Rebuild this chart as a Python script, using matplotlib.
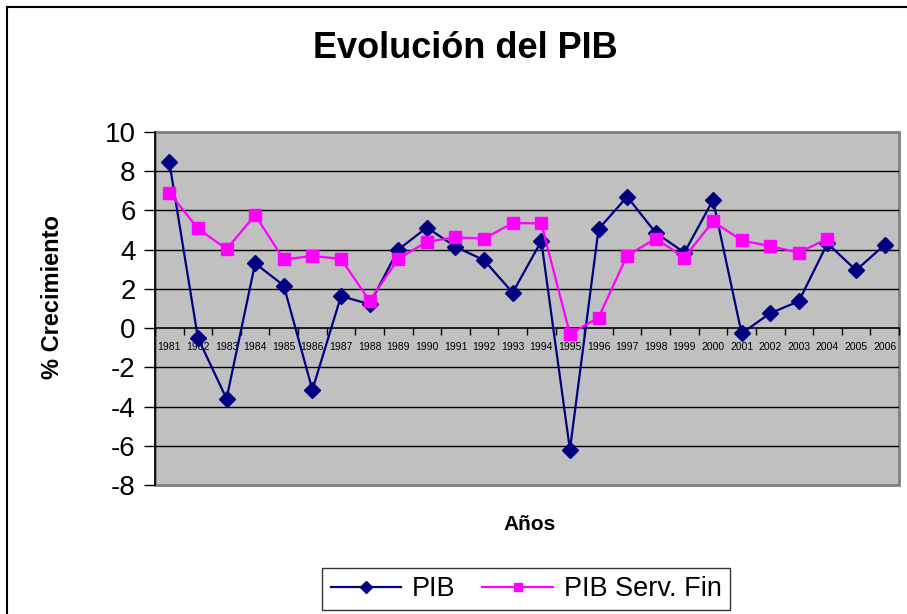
import matplotlib
matplotlib.use("Agg")
import matplotlib.pyplot as plt
from matplotlib.patches import Rectangle
import numpy as np

years = [str(y) for y in range(1981, 2007)]
pib = [8.47, -0.5, -3.6, 3.3, 2.17, -3.15, 1.63, 1.22, 4.0, 5.13, 4.15, 3.46, 1.81,
       4.44, -6.2, 5.05, 6.7, 4.86, 3.85, 6.53, -0.27, 0.76, 1.37, 4.32, 2.95, 4.25]
pib_serv_fin = [6.9, 5.08, 4.03, 5.76, 3.5, 3.68, 3.53, 1.39, 3.53, 4.4, 4.63, 4.56, 5.36,
                5.34, -0.3, 0.54, 3.7, 4.56, 3.6, 5.44, 4.47, 4.18, 3.85, 4.56, None, None]
yticks = [10, 8, 6, 4, 2, 0, -2, -4, -6, -8]

plt.rcParams['font.family'] = ['Liberation Sans', 'DejaVu Sans']

fig = plt.figure(figsize=(9.07, 6.14), dpi=100)
# outer chart frame (top and left edges visible)
fig.add_artist(plt.Line2D([7/907, 1.0], [1-7/614, 1-7/614], transform=fig.transFigure, color='black', lw=1.5))
fig.add_artist(plt.Line2D([7/907, 7/907], [0, 1-7/614], transform=fig.transFigure, color='black', lw=1.5))

ax = fig.add_axes([155/907, 1-485/614, (899-155)/907, (485-132)/614])
ax.set_facecolor('#C0C0C0')
x = np.arange(len(years))
ax.set_xlim(-0.5, len(years)-0.5)
ax.set_ylim(-8, 10)

for v in yticks:
    if v not in (0, 10, -8):
        ax.axhline(v, color='black', lw=1, zorder=1)

ax.plot(x, pib, color='#000080', lw=1.6, marker='D', markersize=8.5, zorder=3, label='PIB')
sf = np.array([np.nan if v is None else v for v in pib_serv_fin], dtype=float)
ax.plot(x, sf, color='#FF00FF', lw=1.6, marker='s', markersize=8.5, zorder=3, label='PIB Serv. Fin')

for s in ['top', 'right']:
    ax.spines[s].set_visible(False)
ax.spines['left'].set_color('black')
ax.spines['left'].set_linewidth(1.2)
ax.spines['bottom'].set_position(('data', 0))
ax.spines['bottom'].set_color('black')
ax.spines['bottom'].set_linewidth(1.2)
ax.add_patch(Rectangle((0, 0), 1, 1, transform=ax.transAxes, fill=False,
                       edgecolor='#808080', lw=2, zorder=0.5, clip_on=False))

ax.set_yticks(yticks)
ax.set_yticklabels([str(v) for v in yticks], fontsize=20)
ax.tick_params(axis='y', direction='out', length=8, width=1, pad=6)

ax.set_xticks(x)
ax.set_xticklabels(years, fontsize=7.5)
ax.tick_params(axis='x', which='major', length=0, pad=10)
ax.set_xticks(np.arange(-0.5, len(years), 1), minor=True)
ax.tick_params(axis='x', which='minor', direction='out', length=5, width=1)

fig.text(465/907, 1-49/614, 'Evolución del PIB', fontsize=26, fontweight='bold', ha='center', va='center')
fig.text(53/907, 1-297/614, '% Crecimiento', fontsize=17, fontweight='bold', ha='center', va='center', rotation=90)
fig.text(530/907, 1-524/614, 'Años', fontsize=15, fontweight='bold', ha='center', va='center')

leg = fig.legend(loc='center', bbox_to_anchor=(526/907, 1-589/614), ncol=2, fontsize=19.5,
                 frameon=True, fancybox=False, edgecolor='black', handlelength=2.6,
                 columnspacing=1.0, handletextpad=0.4, borderpad=0.3, markerscale=0.75)
leg.get_frame().set_linewidth(1)

fig.savefig('out.png', dpi=100)
